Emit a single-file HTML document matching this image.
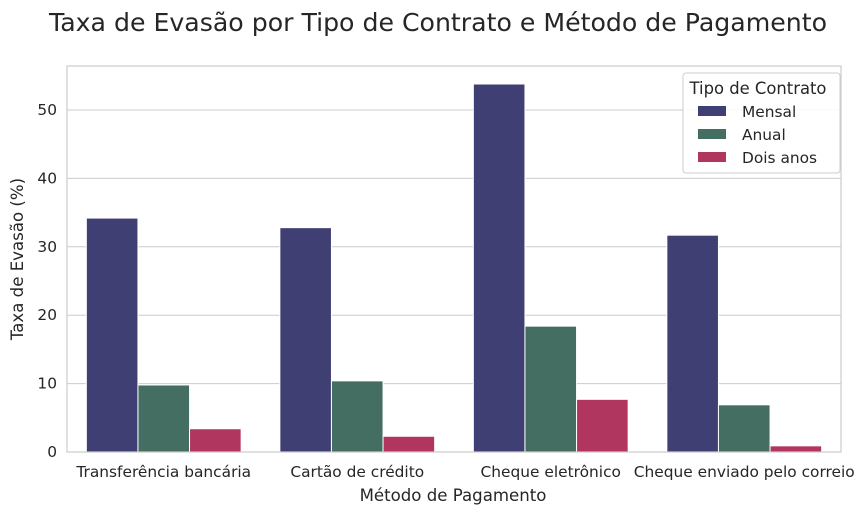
<!DOCTYPE html>
<html><head><meta charset="utf-8"><style>
body{margin:0;background:#fff;width:864px;height:514px;overflow:hidden;font-family:"Liberation Sans","DejaVu Sans",sans-serif}
</style></head><body>
<svg id="chart" width="864" height="514" font-family="'DejaVu Sans','Liberation Sans',sans-serif">
<text x="438" y="31" text-anchor="middle" font-size="25.2" fill="#262626">Taxa de Evasão por Tipo de Contrato e Método de Pagamento</text>
<g id="grid"></g><g id="bars"></g><g id="axes"></g>
<text x="453" y="501" text-anchor="middle" font-size="16.6" fill="#262626">Método de Pagamento</text>
<text transform="translate(23,259) rotate(-90)" text-anchor="middle" font-size="16.6" fill="#262626">Taxa de Evasão (%)</text>
<g id="legend"></g>
</svg>
<script>
const categories=["Transferência bancária","Cartão de crédito","Cheque eletrônico","Cheque enviado pelo correio"];
const seriesNames=["Mensal","Anual","Dois anos"];
const mensal=[34.2,32.8,53.8,31.7];
const anual=[9.8,10.4,18.4,6.9];
const doisAnos=[3.4,2.3,7.7,0.9];
const yTicks=[0,10,20,30,40,50];
const colors=["#403f73","#456e63","#b03660"];
const series=[mensal,anual,doisAnos];
const NS="http://www.w3.org/2000/svg";
const L=67,R=841,T=66,B=452;
const y=v=>B-v*6.84;
const band=(R-L)/categories.length;
const x=i=>L+band*(i+0.5);
function mk(t,a,p){const e=document.createElementNS(NS,t);for(const k in a)e.setAttribute(k,a[k]);p.appendChild(e);return e;}
const grid=document.getElementById('grid'),bars=document.getElementById('bars'),axes=document.getElementById('axes'),leg=document.getElementById('legend');
yTicks.forEach(v=>{
 const l=mk('line',{x1:L,x2:R,y1:y(v),y2:y(v),stroke:'#cccccc','stroke-width':1},grid);
 
 
 const t=mk('text',{x:L-10,y:y(v)+5,'text-anchor':'end','font-size':15.4,fill:'#262626'},axes);
 t.textContent=v;
 
 
});
const bw=band*0.8/3;
series.forEach((s,j)=>s.forEach((v,i)=>{
 const bx=x(i)-band*0.4+j*bw;
 const r=mk('rect',{x:bx,y:y(v),width:bw,height:B-y(v),fill:colors[j],stroke:'#fff','stroke-width':1},bars);
 
 
}));
categories.forEach((c,i)=>{
 const t=mk('text',{x:x(i),y:477,'text-anchor':'middle','font-size':15.4,fill:'#262626'},axes);
 t.textContent=c;
 
 
});
const fr=mk('rect',{x:L,y:T,width:R-L,height:B-T,fill:'none',stroke:'#cccccc','stroke-width':1.2},axes);


const lb=mk('rect',{x:683,y:73,width:157,height:100,rx:3,fill:'#fff','fill-opacity':0.85,stroke:'#cccccc'},leg);


const lt=mk('text',{x:758,y:94,'text-anchor':'middle','font-size':16.4,fill:'#262626'},leg);
lt.textContent='Tipo de Contrato';


seriesNames.forEach((n,j)=>{
 const g=mk('g',{},leg);
 
 
 mk('rect',{x:698,y:106+j*23,width:28,height:10,fill:colors[j]},g);
 const t=mk('text',{x:742,y:117+j*23,'font-size':15.4,fill:'#262626'},g);
 t.textContent=n;
});
</script>
</body></html>
